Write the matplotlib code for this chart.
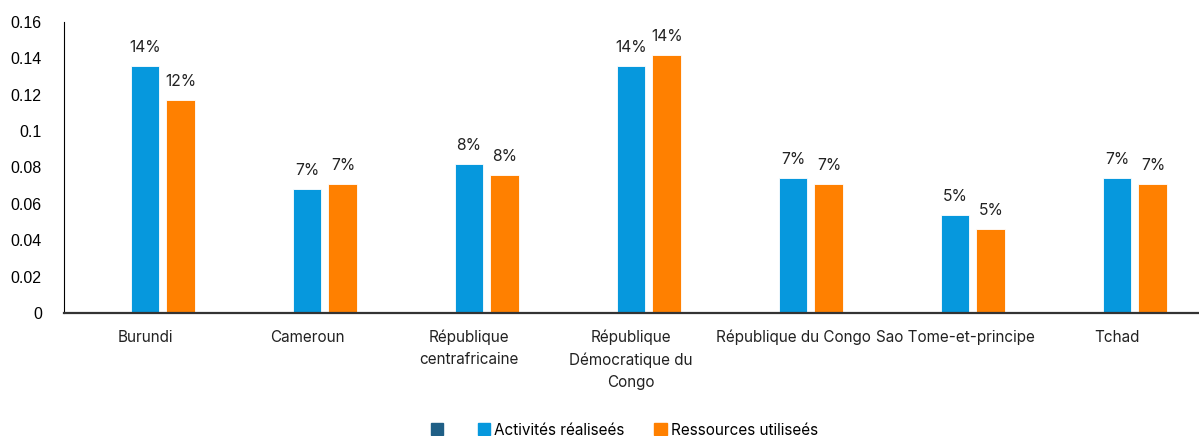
import matplotlib
matplotlib.use("Agg")
import matplotlib.pyplot as plt
import numpy as np
from matplotlib.patches import Patch

categories = ["Burundi", "Cameroun", "République\ncentrafricaine",
              "République\nDémocratique du\nCongo", "République du Congo",
              "Sao Tome-et-principe", "Tchad"]
series_hidden = [0, 0, 0, 0, 0, 0, 0]
activites = [0.136, 0.068, 0.082, 0.136, 0.074, 0.054, 0.074]
ressources = [0.117, 0.071, 0.076, 0.142, 0.071, 0.046, 0.071]
yticks = [0, 0.02, 0.04, 0.06, 0.08, 0.1, 0.12, 0.14, 0.16]
ytick_labels = ["0", "0.02", "0.04", "0.06", "0.08", "0.1", "0.12", "0.14", "0.16"]

c_dark = "#1f5f86"
c_blue = "#0698dd"
c_orange = "#ff8000"

plt.rcParams['font.family'] = ['Inter', 'DejaVu Sans']

fig = plt.figure(figsize=(11.99, 4.36), dpi=100)
ax = fig.add_axes([64/1199, 1-313/436, (1198-64)/1199, (313-22)/436])

x = np.arange(len(categories))
w = 0.179
off = 0.222
ax.bar(x - off, series_hidden, w, color=c_dark)
b1 = ax.bar(x, activites, w, color=c_blue, edgecolor="white", linewidth=0.6)
b2 = ax.bar(x + off, ressources, w, color=c_orange, edgecolor="white", linewidth=0.6)

for bars, vals in ((b1, activites), (b2, ressources)):
    for r, v in zip(bars, vals):
        ax.annotate(f"{v*100:.0f}%", (r.get_x() + r.get_width()/2, v),
                    xytext=(0, 8), textcoords="offset points",
                    ha="center", va="bottom", fontsize=11.3, color="#222222")

ax.set_xlim(-0.5, len(categories) - 0.5)
ax.set_ylim(0, 0.16)
ax.set_yticks(yticks)
ax.set_yticklabels(ytick_labels, fontsize=11.5, family=['Liberation Sans'])
ax.set_xticks(x)
ax.set_xticklabels(categories, fontsize=11, color="#222222", linespacing=1.6)
ax.tick_params(axis="x", length=0, pad=12)
ax.tick_params(axis="y", length=0, pad=16)
for s in ("top", "right"):
    ax.spines[s].set_visible(False)
ax.spines["left"].set_color("#000000")
ax.spines["bottom"].set_color("#333333")
ax.spines["bottom"].set_linewidth(1.6)

handles = [Patch(color=c_dark, label=""), Patch(color=c_blue, label="Activités réaliseés"),
           Patch(color=c_orange, label="Ressources utiliseés")]
fig.legend(handles=handles, loc="center", bbox_to_anchor=(0.521, 1-430/436), ncol=3,
           frameon=False, fontsize=11, handlelength=0.8, handleheight=0.8,
           handletextpad=0.3, columnspacing=1.95)

fig.savefig("out.png", dpi=100)
